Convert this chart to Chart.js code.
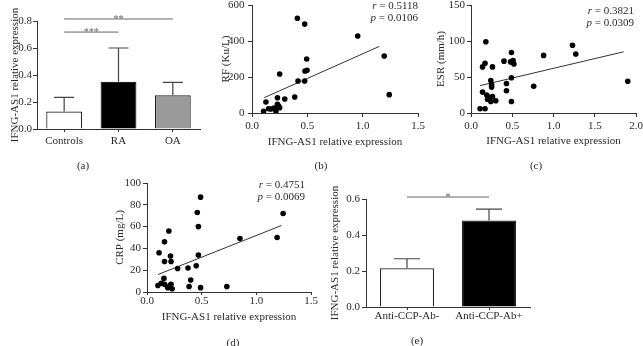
<!DOCTYPE html>
<html>
<head>
<meta charset="utf-8">
<script src="https://cdn.jsdelivr.net/npm/chart.js@4.4.1/dist/chart.umd.min.js"></script>
<style>
  html, body { margin: 0; padding: 0; background: #fff; }
  #fig { position: relative; width: 643px; height: 346px; overflow: hidden;
         font-family: "Liberation Serif", "Times New Roman", serif; color: #2a2a2a; }
  #fig canvas { position: absolute; }
  .tag { position: absolute; font-size: 11px; line-height: 12px; transform: translate(-50%, -50%); white-space: nowrap; }
  .stat { position: absolute; font-size: 11px; line-height: 12px; text-align: right; white-space: nowrap; }
</style>
</head>
<body>
<div id="fig">
  <canvas id="cA"></canvas>
  <canvas id="cB"></canvas>
  <canvas id="cC"></canvas>
  <canvas id="cD"></canvas>
  <canvas id="cE"></canvas>

  <div class="stat" style="right:225px; top:-1px"><i>r</i> = 0.5118<br><i>p</i> = 0.0106</div>
  <div class="stat" style="right:9px; top:4px"><i>r</i> = 0.3821<br><i>p</i> = 0.0309</div>
  <div class="stat" style="right:338px; top:178px"><i>r</i> = 0.4751<br><i>p</i> = 0.0069</div>

  <div class="tag" style="left:83px; top:165px">(a)</div>
  <div class="tag" style="left:321px; top:165px">(b)</div>
  <div class="tag" style="left:536px; top:165px">(c)</div>
  <div class="tag" style="left:233px; top:342px">(d)</div>
  <div class="tag" style="left:417px; top:340px">(e)</div>
</div>
<script>
// (a) expression by group
const groupNames = ["Controls", "RA", "OA"];
const groupMean = [0.13, 0.35, 0.25];
const groupUpper = [0.235, 0.60, 0.345];
const groupFill = ["#ffffff", "#000000", "#9a9a9a"];
const groupSig = [
    { from: 0, to: 1, y: 0.718, label: "***" },
    { from: 0, to: 2, y: 0.815, label: "**" }
];

// (b) RF vs expression
const rfX = [0.41, 0.476, 0.955, 1.195, 1.24, 0.494, 0.479, 0.497, 0.25, 0.416, 0.476, 0.386,
             0.296, 0.23, 0.126, 0.23, 0.24, 0.17, 0.198, 0.15, 0.105, 0.25, 0.216];
const rfY = [526, 494, 428, 317, 102, 300, 233, 237, 217, 178, 178, 89,
             78, 85, 61, 48, 38, 22, 28, 24, 10, 29, 11];
const rfFitX = [0.11, 1.15];
const rfFitY = [85, 370];

// (c) ESR vs expression
const esrX = [0.18, 0.17, 0.14, 0.26, 0.40, 0.49, 0.48, 0.51, 0.52, 0.88, 0.43, 0.43, 0.49, 0.49, 0.76,
              0.24, 0.25, 0.25, 0.14, 0.19, 0.21, 0.26, 0.24, 0.30, 0.20, 0.11, 0.17, 1.23, 1.27, 1.9];
const esrY = [99, 69, 64, 64, 72, 84, 71, 73, 68, 80, 41, 31, 49, 16, 37,
              45, 39, 36, 29, 25, 22, 23, 16, 17, 19, 6, 6, 94, 82, 44];
const esrFitX = [0.11, 1.85];
const esrFitY = [38, 85];

// (d) CRP vs expression
const crpX = [0.49, 0.46, 0.47, 0.20, 0.16, 0.11, 0.215, 0.16, 0.22, 0.47, 0.85, 0.28, 0.375, 0.45,
              0.40, 0.155, 0.385, 0.49, 0.73, 1.19, 1.245, 0.10, 0.13, 0.16, 0.19, 0.21, 0.22, 0.23];
const crpY = [87, 73, 60, 56, 46, 36, 33, 28, 28, 34, 49, 21.5, 22, 24,
              11, 12.5, 5, 4, 5, 50, 72, 6, 8, 7, 4, 6, 7, 3];
const crpFitX = [0.10, 1.23];
const crpFitY = [16, 61];

// (e) anti-CCP groups
const ccpNames = ["Anti-CCP-Ab-", "Anti-CCP-Ab+"];
const ccpMean = [0.215, 0.48];
const ccpUpper = [0.268, 0.544];
const ccpFill = ["#ffffff", "#000000"];
const ccpSig = [{ from: 0, to: 1, y: 0.611, label: "*" }];

const FONT = { family: '"Liberation Serif", "Times New Roman", serif', size: 11 };
const INK = "#2a2a2a";
const AXIS = "#333333";

function pts(xs, ys) {
    return xs.map((x, i) => ({ x: x, y: ys[i] }));
}

// put canvas on the page; box = [left, top, w, h], area = plot rect in page px
function place(id, box, area, xh) {
    const el = document.getElementById(id);
    el.width = box[2];
    el.height = box[3];
    el.style.left = box[0] + "px";
    el.style.top = box[1] + "px";
    return {
        el: el,
        yw: area[0] - box[0],
        xh: xh,
        padding: {
            left: 0,
            top: area[1] - box[1],
            right: box[0] + box[2] - area[2],
            bottom: box[1] + box[3] - area[3] - xh
        }
    };
}

function yAxis(f, o) {
    return {
        min: o.min, max: o.max,
        ticks: { stepSize: o.step, padding: o.tickPad, color: INK, font: FONT,
                 callback: v => v.toFixed(o.dec) },
        grid: { drawOnChartArea: false, tickLength: 4, color: AXIS, lineWidth: 1 },
        border: { color: AXIS, width: 1 },
        title: { display: true, text: o.title, color: INK, font: FONT, padding: { top: o.titlePad, bottom: 0 } },
        afterFit: s => { s.width = f.yw; }
    };
}

function xLinear(f, o) {
    return {
        type: "linear", min: o.min, max: o.max,
        ticks: { stepSize: o.step, padding: o.tickPad, color: INK, font: FONT,
                 callback: v => v.toFixed(1) },
        grid: { drawOnChartArea: false, tickLength: o.tickLen, color: AXIS, lineWidth: 1 },
        border: { color: AXIS, width: 1 },
        title: { display: true, text: "IFNG-AS1 relative expression", color: INK, font: FONT,
                 padding: { top: 0, bottom: o.titlePad } },
        afterFit: s => { s.height = f.xh; }
    };
}

function xCategory(f, tickPad) {
    return {
        ticks: { padding: tickPad, color: INK, font: FONT },
        grid: { drawOnChartArea: false, offset: false, tickLength: 3, color: AXIS, lineWidth: 1 },
        border: { color: AXIS, width: 1 },
        afterFit: s => { s.height = f.xh; }
    };
}

// error bars and significance lines for bar panels
function barMarks(upper, capW, sigs) {
    return {
        id: "barMarks",
        afterDatasetsDraw(chart) {
            const { ctx, scales: { x, y } } = chart;
            const means = chart.data.datasets[0].data;
            ctx.save();
            ctx.strokeStyle = "#444";
            ctx.lineWidth = 1.2;
            upper.forEach((v, i) => {
                const cx = x.getPixelForValue(i);
                const top = y.getPixelForValue(v);
                ctx.beginPath();
                ctx.moveTo(cx, y.getPixelForValue(means[i]));
                ctx.lineTo(cx, top);
                ctx.moveTo(cx - capW / 2, top);
                ctx.lineTo(cx + capW / 2, top);
                ctx.stroke();
            });
            ctx.strokeStyle = "#666";
            ctx.fillStyle = "#666";
            ctx.lineWidth = 1;
            ctx.font = '10px "Liberation Serif"';
            ctx.textAlign = "center";
            ctx.textBaseline = "alphabetic";
            sigs.forEach(s => {
                const x1 = x.getPixelForValue(s.from);
                const x2 = x.getPixelForValue(s.to);
                const yy = y.getPixelForValue(s.y);
                ctx.beginPath();
                ctx.moveTo(x1, yy);
                ctx.lineTo(x2, yy);
                ctx.stroke();
                ctx.fillText(s.label, (x1 + x2) / 2, yy + 3);
            });
            ctx.restore();
        }
    };
}

function barChart(f, names, means, fills, upper, capW, sigs, yo, tickPad) {
    return new Chart(f.el, {
        type: "bar",
        data: {
            labels: names,
            datasets: [{
                data: means,
                backgroundColor: fills,
                borderColor: "#222",
                borderWidth: 1.2,
                barPercentage: 0.66,
                categoryPercentage: 1
            }]
        },
        options: {
            responsive: false,
            animation: false,
            layout: { padding: f.padding },
            plugins: { legend: { display: false }, tooltip: { enabled: false } },
            scales: { x: xCategory(f, tickPad), y: yAxis(f, yo) }
        },
        plugins: [barMarks(upper, capW, sigs)]
    });
}

function scatterChart(f, xs, ys, fitX, fitY, xo, yo) {
    return new Chart(f.el, {
        type: "scatter",
        data: {
            datasets: [
                { data: pts(xs, ys), backgroundColor: "#000", borderColor: "#000",
                  pointRadius: 2.8, borderWidth: 0 },
                { data: pts(fitX, fitY), showLine: true, borderColor: "#333", borderWidth: 1,
                  pointRadius: 0 }
            ]
        },
        options: {
            responsive: false,
            animation: false,
            layout: { padding: f.padding },
            plugins: { legend: { display: false }, tooltip: { enabled: false } },
            scales: { x: xLinear(f, xo), y: yAxis(f, yo) }
        }
    });
}

// (a)
const fA = place("cA", [0, 0, 215, 175], [37, 21, 200, 129], 22);
barChart(fA, groupNames, groupMean, groupFill, groupUpper, 20, groupSig,
    { min: 0, max: 0.8, step: 0.2, dec: 1, tickPad: 1, title: "IFNG-AS1 relative expression", titlePad: 8.4 }, 3);

// (b)
const fB = place("cB", [215, -10, 215, 185], [252, 5, 418, 113], 36);
scatterChart(fB, rfX, rfY, rfFitX, rfFitY,
    { min: 0, max: 1.5, step: 0.5, tickLen: 4, tickPad: 2.4, titlePad: 0.7 },
    { min: 0, max: 600, step: 200, dec: 0, tickPad: 3.5, title: "RF (Ku/L)", titlePad: 5 });

// (c)
const fC = place("cC", [430, -10, 220, 185], [471, 5, 636, 113], 36);
scatterChart(fC, esrX, esrY, esrFitX, esrFitY,
    { min: 0, max: 2.0, step: 0.5, tickLen: 4, tickPad: 2.8, titlePad: 1 },
    { min: 0, max: 150, step: 50, dec: 0, tickPad: 2, title: "ESR (mm/h)", titlePad: 5 });

// (d)
const fD = place("cD", [90, 165, 245, 181], [147, 183, 311, 292], 32);
scatterChart(fD, crpX, crpY, crpFitX, crpFitY,
    { min: 0, max: 1.5, step: 0.5, tickLen: 3, tickPad: 0, titlePad: 0.4 },
    { min: 0, max: 100, step: 20, dec: 0, tickPad: 2, title: "CRP (mg/L)", titlePad: 23.4 });

// (e)
const fE = place("cE", [325, 170, 213, 176], [366, 199, 530, 307], 18);
barChart(fE, ccpNames, ccpMean, ccpFill, ccpUpper, 26, ccpSig,
    { min: 0, max: 0.6, step: 0.2, dec: 1, tickPad: 2, title: "IFNG-AS1 relative expression", titlePad: 3.4 }, 0);
</script>
</body>
</html>
